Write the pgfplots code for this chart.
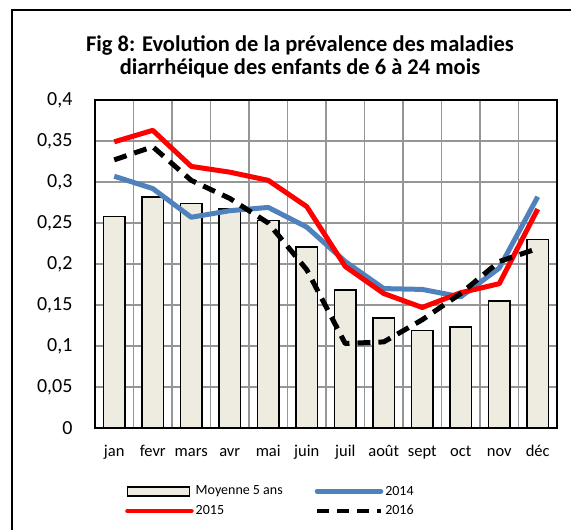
\documentclass[border=0pt]{standalone}
\usepackage{pgfplots}
\pgfplotsset{compat=1.18}
\usepackage{fontspec}
\setmainfont{Carlito}
\definecolor{barfill}{RGB}{238,236,225}
\definecolor{blue14}{RGB}{79,129,189}
\definecolor{gridc}{RGB}{150,150,150}
\begin{document}
\begin{tikzpicture}
\useasboundingbox (0pt,0pt) rectangle (571pt,530pt);
\draw[line width=1.5pt] (12pt,0pt) -- (12pt,520pt) -- (571pt,520pt);
\node[font=\bfseries\fontsize{22.5}{22.6}\selectfont, align=center, anchor=base] at (300pt,455.7pt) {Fig 8: Evolution de la pr\'evalence des maladies\\diarrh\'eique des enfants de 6 \`a 24 mois};
\begin{axis}[
  at={(95pt,102pt)}, anchor=south west,
  scale only axis, width=462pt, height=328pt,
  xmin=-0.5, xmax=11.5, ymin=0, ymax=0.4,
  xtick={0,...,11},
  xticklabels={jan,fevr,mars,avr,mai,juin,juil,ao\^ut,sept,oct,nov,d\'ec},
  minor xtick={-0.5,0.5,...,11.5},
  ytick={0,0.05,...,0.4},
  xminorgrids, ymajorgrids,
  major grid style={gridc, line width=1.5pt},
  minor grid style={gridc, line width=1.5pt},
  axis line style={black, line width=1.8pt},
  major tick length=0pt, minor tick length=0pt,
  /pgf/number format/assume math mode=true,
  /pgf/number format/use comma,
  /pgf/number format/fixed,
  /pgf/number format/precision=2,
  yticklabel style={font=\fontsize{20}{24}\selectfont, xshift=-19pt},
  xticklabel style={font=\fontsize{16.5}{19}\selectfont, yshift=-29pt, anchor=base},
  legend columns=2,
  legend cell align=left,
  legend style={at={(0.065,-0.17)}, anchor=north west, draw=none, fill=none,
    inner sep=0pt, font=\fontsize{14}{16}\selectfont, row sep=5pt,
    /tikz/every even column/.append style={column sep=30pt}},
]
\addplot[ybar, bar width=21.5pt, fill=barfill, draw=black, line width=1.5pt,
  legend image code/.code={\draw[fill=barfill, draw=black, line width=1.5pt] (0pt,-4.5pt) rectangle (62pt,4.5pt);}]
coordinates {(0,0.258) (1,0.282) (2,0.274) (3,0.267) (4,0.253) (5,0.221) (6,0.168) (7,0.134) (8,0.119) (9,0.123) (10,0.155) (11,0.230)};
\addlegendentry{Moyenne 5 ans}
\addplot[blue14, line width=5pt, line join=round,
  legend image code/.code={\draw[blue14, line width=4.5pt, line cap=round] (0pt,0pt) -- (64pt,0pt);}]
coordinates {(0,0.307) (1,0.292) (2,0.257) (3,0.265) (4,0.269) (5,0.245) (6,0.203) (7,0.170) (8,0.169) (9,0.160) (10,0.195) (11,0.282)};
\addlegendentry{2014}
\addplot[red, line width=5pt, line join=round,
  legend image code/.code={\draw[red, line width=4.5pt, line cap=round] (0pt,0pt) -- (64pt,0pt);}]
coordinates {(0,0.349) (1,0.363) (2,0.319) (3,0.312) (4,0.302) (5,0.270) (6,0.197) (7,0.164) (8,0.147) (9,0.165) (10,0.176) (11,0.267)};
\addlegendentry{2015}
\addplot[black, line width=5pt, line join=round, dash pattern=on 13pt off 8pt,
  legend image code/.code={\draw[black, line width=4.5pt, dash pattern=on 12pt off 8pt] (0pt,0pt) -- (64pt,0pt);}]
coordinates {(0,0.327) (1,0.343) (2,0.302) (3,0.280) (4,0.250) (5,0.193) (6,0.103) (7,0.105) (8,0.132) (9,0.164) (10,0.203) (11,0.219)};
\addlegendentry{2016}
\end{axis}
\end{tikzpicture}
\end{document}
